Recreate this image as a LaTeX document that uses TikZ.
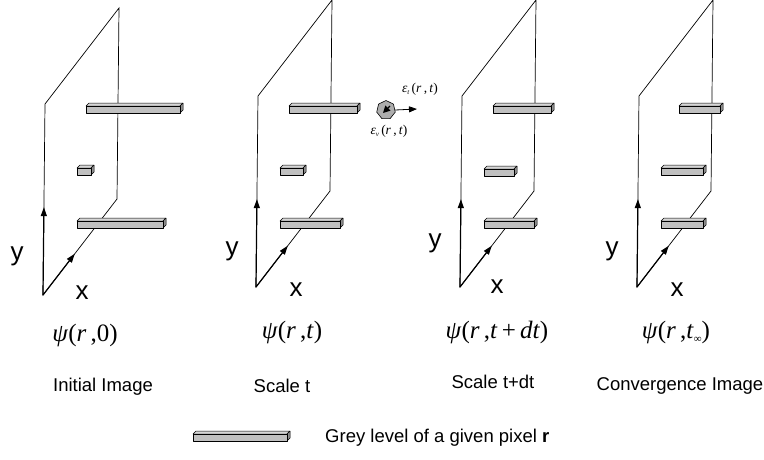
\RequirePackage{fix-cm}
\documentclass[tikz,border=0pt]{standalone}
\usepackage{fontspec}
\usepackage{tikz}
\usetikzlibrary{arrows.meta,positioning,calc,shapes.geometric}
\newfontfamily\arialfont{Liberation Sans}
\newfontfamily\timesfont{Liberation Serif}
\definecolor{ink}{HTML}{000000}
\definecolor{slab}{HTML}{C0C0C0}
\definecolor{slabtop}{HTML}{D6D6D6}
\definecolor{slabside}{HTML}{8E8E8E}
\definecolor{spingrey}{HTML}{8A8A8A}

% one grey slab: front left x, front right x, front bottom y
\newcommand{\greybar}[3]{%
  \filldraw[slabline, fill=slabtop] (#1,{#3-7}) -- ({#1+3},{#3-10}) -- ({#2+3},{#3-10}) -- (#2,{#3-7}) -- cycle;
  \filldraw[slabline, fill=slabside] (#2,{#3-7}) -- ({#2+3},{#3-10}) -- ({#2+3},{#3-3}) -- (#2,#3) -- cycle;
  \filldraw[slabline, fill=slab] (#1,#3) rectangle (#2,{#3-7});
}
% one image plane with its two axes: name, bottom left x, y
\newcommand{\imgplane}[3]{%
  \coordinate (#1bl) at (#2,#3);
  \coordinate (#1lt) at ($(#1bl)+(2,-191)$);
  \coordinate (#1tr) at ($(#1bl)+(76,-287)$);
  \coordinate (#1rb) at ($(#1bl)+(74,-96)$);
  \draw[plane] (#1bl) -- (#1lt) -- (#1tr) -- (#1rb) -- cycle;
  \draw[axis] (#1bl) -- ($(#1bl)!0.46!(#1lt)$);
  \draw[axis] (#1bl) -- ($(#1bl)!0.43!(#1rb)$);
}
\newcommand{\vi}[1]{\textit{#1}}

\begin{document}
\begin{tikzpicture}[
  x=1pt, y=-1pt,
  plane/.style={draw=ink, line width=0.7pt, line join=miter},
  axis/.style={draw=ink, line width=1.2pt, -{Triangle[length=9pt,width=6pt]}},
  slabline/.style={draw=ink, line width=0.5pt, line join=round},
  axlab/.style={font=\arialfont\fontsize{26}{28}\selectfont, inner sep=0pt},
  psilab/.style={font=\timesfont\fontsize{25}{28}\selectfont, inner sep=0pt},
  caption/.style={font=\arialfont\fontsize{18.5}{20}\selectfont, inner sep=0pt, anchor=base},
  epslab/.style={font=\timesfont\fontsize{13.5}{15}\selectfont, inner sep=0pt},
  ar/.style={draw=ink, line width=0.8pt, -{Triangle[length=8pt,width=6pt]}},
]
\useasboundingbox (0,0) rectangle (764,459);

% image planes
\imgplane{a}{43}{295}
\imgplane{b}{256}{287}
\imgplane{c}{460}{287}
\imgplane{d}{637}{287}

% grey levels
\greybar{86}{180}{113}
\greybar{77}{91}{175}
\greybar{77}{163}{228}
\greybar{289}{357}{113}
\greybar{280}{303}{175}
\greybar{280}{340}{228}
\greybar{493}{551}{113}
\greybar{484}{514}{176}
\greybar{484}{534}{228}
\greybar{679}{720}{113}
\greybar{661}{703}{175}
\greybar{661}{703}{228}

% axis letters
\node[axlab] (ya) at (17,256) {y};
\node[axlab] (xa) at (82,293) {x};
\node[axlab] (yb) at (232,251) {y};
\node[axlab] (xb) at (296,290) {x};
\node[axlab] (yc) at (435,243) {y};
\node[axlab] (xc) at (497,287) {x};
\node[axlab] (yd) at (612,251) {y};
\node[axlab] (xd) at (677,290) {x};

% scale functions
\node[psilab] (psia) at (85,335) {\vi{ψ}(\vi{r}\,,0)};
\node[psilab] (psib) at (292,332) {\vi{ψ}(\vi{r}\,,\vi{t})};
\node[psilab] (psic) at (497,332) {\vi{ψ}(\vi{r}\,,\vi{t}\,+\,\vi{dt})};
\node[psilab] (psid) at (676,332) {\vi{ψ}(\vi{r}\,,\vi{t}\raisebox{-4pt}{\fontsize{11}{12}\selectfont ∞})};

\node[caption] (capa) at (103,391) {Initial Image};
\node[caption] (capb) at (282,392) {Scale t};
\node[caption] (capc) at (493,388) {Scale t+dt};
\node[caption] (capd) at (680,390) {Convergence Image};

% evolution of one pixel
\node[regular polygon, regular polygon sides=7, minimum size=19pt, inner sep=0pt,
  fill=spingrey!70, draw=ink, line width=0.6pt] (spin) at (386,110) {};
\draw[ink, line width=1.2pt, -{Triangle[length=7pt,width=7pt]}]
  ($(spin)+(4,-4)$) -- ($(spin)+(-3,3)$);
\coordinate (epsout) at (417,109);
\draw[ar] (spin.east) -- (epsout);
\node[epslab] (epst) at (420,89) {\vi{ε}\raisebox{-2pt}{\fontsize{7}{8}\selectfont\vi{t}}\,(\vi{r}\,,\,\vi{t})};
\node[epslab] (epsv) at (389,131) {\vi{ε}\raisebox{-2pt}{\fontsize{7}{8}\selectfont\vi{v}}\,(\vi{r}\,,\,\vi{t})};

% legend
\greybar{193}{287}{441}
\node[caption, anchor=base west] (legend) at (325,442) {Grey level of a given pixel \textbf{r}};
\end{tikzpicture}
\end{document}
